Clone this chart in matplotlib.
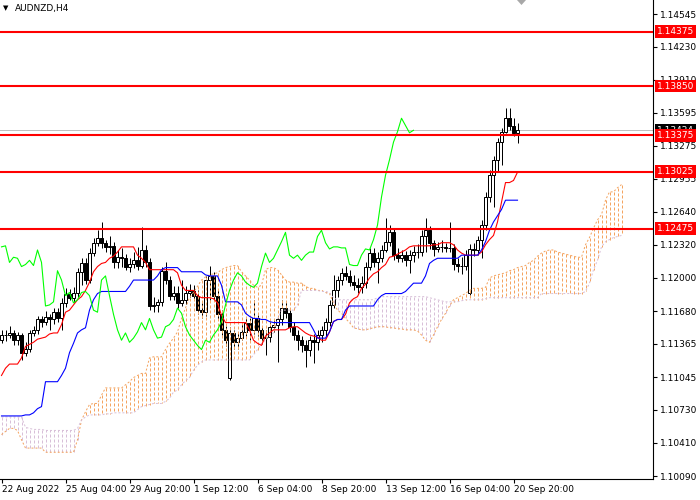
import matplotlib
matplotlib.use("Agg")
import matplotlib.pyplot as plt
from matplotlib import transforms
from matplotlib.collections import LineCollection
from matplotlib.patches import Polygon

symbol = "AUDNZD,H4"

# H4 candles, bar 0 = 22 Aug 2022 12:00
opens = [
    1.1140, 1.1145, 1.1145, 1.1147, 1.1140, 1.1145, 1.1128, 1.1132, 1.1147, 1.1150,
    1.1160, 1.1158, 1.1162, 1.1160, 1.1167, 1.1161, 1.1176, 1.1185, 1.1181, 1.1186,
    1.1206, 1.1214, 1.1198, 1.1224, 1.1234, 1.1239, 1.1234, 1.1230, 1.1231, 1.1215,
    1.1220, 1.1219, 1.1211, 1.1213, 1.1217, 1.1212, 1.1227, 1.1215, 1.1173, 1.1174,
    1.1177, 1.1207, 1.1198, 1.1183, 1.1186, 1.1176, 1.1179, 1.1186, 1.1187, 1.1183,
    1.1169, 1.1167, 1.1198, 1.1202, 1.1183, 1.1165, 1.1150, 1.1104, 1.1147, 1.1138,
    1.1142, 1.1148, 1.1157, 1.1150, 1.1161, 1.1150, 1.1142, 1.1143, 1.1153, 1.1155,
    1.1160, 1.1171, 1.1166, 1.1153, 1.1145, 1.1140, 1.1135, 1.1131, 1.1140, 1.1138,
    1.1145, 1.1150, 1.1158, 1.1174, 1.1188, 1.1198, 1.1205, 1.1202, 1.1196, 1.1193,
    1.1191, 1.1195, 1.1211, 1.1224, 1.1215, 1.1219, 1.1227, 1.1235, 1.1244, 1.1222,
    1.1219, 1.1222, 1.1217, 1.1222, 1.1225, 1.1225, 1.1240, 1.1246, 1.1234, 1.1228,
    1.1230, 1.1230, 1.1229, 1.1229, 1.1213, 1.1212, 1.1212, 1.1186, 1.1228, 1.1227,
    1.1237, 1.1251, 1.1278, 1.1299, 1.1314, 1.1331, 1.1341, 1.1354, 1.1347, 1.1340,
]
closes = [
    1.1145, 1.1145, 1.1147, 1.1140, 1.1145, 1.1128, 1.1132, 1.1147, 1.1150, 1.1160,
    1.1158, 1.1162, 1.1160, 1.1167, 1.1161, 1.1176, 1.1185, 1.1181, 1.1186, 1.1206,
    1.1214, 1.1198, 1.1224, 1.1234, 1.1239, 1.1234, 1.1230, 1.1231, 1.1215, 1.1220,
    1.1219, 1.1211, 1.1213, 1.1217, 1.1212, 1.1227, 1.1215, 1.1173, 1.1174, 1.1177,
    1.1207, 1.1198, 1.1183, 1.1186, 1.1176, 1.1179, 1.1186, 1.1187, 1.1183, 1.1169,
    1.1167, 1.1198, 1.1202, 1.1183, 1.1165, 1.1150, 1.1140, 1.1147, 1.1138, 1.1142,
    1.1148, 1.1157, 1.1150, 1.1161, 1.1150, 1.1142, 1.1143, 1.1153, 1.1155, 1.1160,
    1.1171, 1.1166, 1.1153, 1.1145, 1.1140, 1.1135, 1.1131, 1.1140, 1.1138, 1.1145,
    1.1150, 1.1158, 1.1174, 1.1188, 1.1198, 1.1205, 1.1202, 1.1196, 1.1193, 1.1191,
    1.1195, 1.1211, 1.1224, 1.1215, 1.1219, 1.1227, 1.1235, 1.1244, 1.1222, 1.1219,
    1.1222, 1.1217, 1.1222, 1.1225, 1.1225, 1.1240, 1.1246, 1.1234, 1.1228, 1.1230,
    1.1230, 1.1229, 1.1229, 1.1213, 1.1212, 1.1212, 1.1222, 1.1228, 1.1227, 1.1237,
    1.1251, 1.1278, 1.1299, 1.1314, 1.1331, 1.1341, 1.1354, 1.1347, 1.1340, 1.13424,
]
highs = [
    1.1150, 1.1150, 1.1154, 1.1150, 1.1148, 1.1147, 1.1138, 1.1150, 1.1154, 1.1163,
    1.1163, 1.1168, 1.1165, 1.1171, 1.1171, 1.1181, 1.1190, 1.1189, 1.1191, 1.1210,
    1.1219, 1.1219, 1.1229, 1.1239, 1.1246, 1.1254, 1.1237, 1.1240, 1.1235, 1.1227,
    1.1229, 1.1223, 1.1219, 1.1225, 1.1230, 1.1249, 1.1232, 1.1219, 1.1182, 1.1180,
    1.1211, 1.1215, 1.1202, 1.1192, 1.1192, 1.1198, 1.1192, 1.1194, 1.1193, 1.1188,
    1.1176, 1.1202, 1.1212, 1.1206, 1.1188, 1.1169, 1.1154, 1.1153, 1.1150, 1.1148,
    1.1158, 1.1161, 1.1161, 1.1179, 1.1164, 1.1154, 1.1150, 1.1158, 1.1160, 1.1163,
    1.1179, 1.1177, 1.1169, 1.1158, 1.1150, 1.1144, 1.1140, 1.1144, 1.1146, 1.1150,
    1.1154, 1.1161, 1.1179, 1.1203, 1.1202, 1.1210, 1.1212, 1.1208, 1.1203, 1.1200,
    1.1202, 1.1215, 1.1229, 1.1229, 1.1225, 1.1232, 1.1258, 1.1251, 1.1248, 1.1229,
    1.1227, 1.1226, 1.1227, 1.1231, 1.1233, 1.1246, 1.1258, 1.1250, 1.1237, 1.1235,
    1.1237, 1.1234, 1.1254, 1.1233, 1.1219, 1.1220, 1.1227, 1.1233, 1.1234, 1.1240,
    1.1256, 1.1283, 1.1304, 1.1318, 1.1335, 1.1345, 1.1364, 1.1364, 1.1354, 1.1349,
]
lows = [
    1.1137, 1.1139, 1.1142, 1.1135, 1.1135, 1.1121, 1.1125, 1.1129, 1.1144, 1.1146,
    1.1153, 1.1155, 1.1150, 1.1156, 1.1158, 1.1150, 1.1172, 1.1179, 1.1177, 1.1182,
    1.1193, 1.1194, 1.1195, 1.1221, 1.1231, 1.1229, 1.1225, 1.1223, 1.1210, 1.1210,
    1.1211, 1.1208, 1.1206, 1.1210, 1.1208, 1.1210, 1.1211, 1.1169, 1.1167, 1.1167,
    1.1173, 1.1194, 1.1179, 1.1179, 1.1171, 1.1173, 1.1175, 1.1182, 1.1180, 1.1165,
    1.1161, 1.1163, 1.1179, 1.1179, 1.1160, 1.1145, 1.1134, 1.1102, 1.1132, 1.1132,
    1.1140, 1.1144, 1.1140, 1.1146, 1.1144, 1.1136, 1.1126, 1.1138, 1.1148, 1.1119,
    1.1155, 1.1161, 1.1148, 1.1140, 1.1131, 1.1129, 1.1114, 1.1125, 1.1118, 1.1131,
    1.1138, 1.1144, 1.1154, 1.1171, 1.1182, 1.1193, 1.1198, 1.1192, 1.1188, 1.1186,
    1.1186, 1.1190, 1.1208, 1.1211, 1.1195, 1.1215, 1.1225, 1.1231, 1.1217, 1.1215,
    1.1215, 1.1212, 1.1205, 1.1215, 1.1219, 1.1221, 1.1225, 1.1228, 1.1221, 1.1225,
    1.1225, 1.1225, 1.1225, 1.1208, 1.1206, 1.1204, 1.1208, 1.1184, 1.1221, 1.1222,
    1.1219, 1.1246, 1.1273, 1.1268, 1.1302, 1.1309, 1.1340, 1.1343, 1.1337, 1.1330,
]

# Ichimoku lines
tenkan = [
    1.1106, 1.1113, 1.1117, 1.1117, 1.1117, 1.1123, 1.1134, 1.1136, 1.1138, 1.1141,
    1.1142, 1.1143, 1.1146, 1.1147, 1.1147, 1.1155, 1.1167, 1.1169, 1.1174, 1.1179,
    1.1182, 1.1188, 1.1196, 1.1206, 1.1211, 1.1214, 1.1215, 1.1219, 1.1221, 1.1225,
    1.1230, 1.1230, 1.1230, 1.1230, 1.1222, 1.1219, 1.1215, 1.1208, 1.1208, 1.1208,
    1.1208, 1.1208, 1.1208, 1.1208, 1.1205, 1.1193, 1.1188, 1.1188, 1.1188, 1.1183,
    1.1181, 1.1181, 1.1181, 1.1180, 1.1176, 1.1164, 1.1157, 1.1157, 1.1157, 1.1157,
    1.1157, 1.1157, 1.1150, 1.1140, 1.1137, 1.1135, 1.1144, 1.1147, 1.1150, 1.1150,
    1.1150, 1.1150, 1.1152, 1.1153, 1.1153, 1.1150, 1.1147, 1.1145, 1.1144, 1.1143,
    1.1140, 1.1140, 1.1148, 1.1158, 1.1160, 1.1160, 1.1165, 1.1176, 1.1180, 1.1182,
    1.1190, 1.1194, 1.1200, 1.1204, 1.1206, 1.1210, 1.1213, 1.1220, 1.1221, 1.1223,
    1.1225, 1.1227, 1.1230, 1.1231, 1.1231, 1.1231, 1.1231, 1.1231, 1.1232, 1.1232,
    1.1234, 1.1234, 1.1234, 1.1232, 1.1227, 1.1224, 1.1222, 1.1222, 1.1222, 1.1222,
    1.1225, 1.1232, 1.1237, 1.1241, 1.1254, 1.1273, 1.1292, 1.1292, 1.1294, 1.1302,
]
kijun = [
    1.1067, 1.1067, 1.1067, 1.1067, 1.1067, 1.1067, 1.1068, 1.1068, 1.1070, 1.1074,
    1.1076, 1.1100, 1.1100, 1.1100, 1.1100, 1.1106, 1.1113, 1.1128, 1.1137, 1.1147,
    1.1150, 1.1152, 1.1169, 1.1179, 1.1185, 1.1187, 1.1187, 1.1187, 1.1187, 1.1187,
    1.1187, 1.1187, 1.1192, 1.1198, 1.1198, 1.1198, 1.1198, 1.1198, 1.1198, 1.1202,
    1.1208, 1.1210, 1.1210, 1.1210, 1.1210, 1.1206, 1.1206, 1.1206, 1.1206, 1.1206,
    1.1206, 1.1203, 1.1202, 1.1202, 1.1202, 1.1193, 1.1177, 1.1177, 1.1177, 1.1177,
    1.1174, 1.1166, 1.1163, 1.1161, 1.1161, 1.1160, 1.1160, 1.1158, 1.1157, 1.1157,
    1.1157, 1.1157, 1.1157, 1.1157, 1.1157, 1.1157, 1.1157, 1.1157, 1.1150, 1.1142,
    1.1142, 1.1142, 1.1148, 1.1158, 1.1160, 1.1160, 1.1169, 1.1173, 1.1173, 1.1173,
    1.1173, 1.1173, 1.1173, 1.1173, 1.1179, 1.1183, 1.1185, 1.1185, 1.1185, 1.1185,
    1.1185, 1.1187, 1.1191, 1.1195, 1.1195, 1.1195, 1.1202, 1.1214, 1.1217, 1.1219,
    1.1219, 1.1219, 1.1219, 1.1219, 1.1219, 1.1222, 1.1222, 1.1222, 1.1222, 1.1222,
    1.1227, 1.1235, 1.1246, 1.1254, 1.1260, 1.1266, 1.1275, 1.1275, 1.1275, 1.1275,
]
# senkou spans run 26 bars past the last candle
span_a = [
    1.1049, 1.1052, 1.1055, 1.1055, 1.1053, 1.1044, 1.1036, 1.1036, 1.1036, 1.1036,
    1.1036, 1.1032, 1.1032, 1.1032, 1.1032, 1.1032, 1.1032, 1.1032, 1.1032, 1.1044,
    1.1063, 1.1071, 1.1078, 1.1079, 1.1079, 1.1087, 1.1094, 1.1094, 1.1094, 1.1094,
    1.1094, 1.1097, 1.1100, 1.1104, 1.1106, 1.1108, 1.1108, 1.1123, 1.1124, 1.1124,
    1.1124, 1.1131, 1.1137, 1.1142, 1.1148, 1.1161, 1.1171, 1.1181, 1.1186, 1.1192,
    1.1198, 1.1201, 1.1203, 1.1204, 1.1205, 1.1208, 1.1210, 1.1211, 1.1212, 1.1212,
    1.1206, 1.1202, 1.1198, 1.1193, 1.1191, 1.1193, 1.1208, 1.1210, 1.1210, 1.1208,
    1.1203, 1.1198, 1.1196, 1.1196, 1.1195, 1.1195, 1.1192, 1.1190, 1.1190, 1.1188,
    1.1188, 1.1186, 1.1185, 1.1176, 1.1169, 1.1166, 1.1161, 1.1157, 1.1152, 1.1151,
    1.1150, 1.1150, 1.1151, 1.1152, 1.1153, 1.1153, 1.1153, 1.1152, 1.1152, 1.1151,
    1.1151, 1.1150, 1.1150, 1.1150, 1.1149, 1.1145, 1.1140, 1.1138, 1.1145, 1.1153,
    1.1160, 1.1166, 1.1173, 1.1179, 1.1181, 1.1183, 1.1185, 1.1188, 1.1190, 1.1190,
    1.1190, 1.1191, 1.1200, 1.1202, 1.1203, 1.1204, 1.1205, 1.1207, 1.1208, 1.1210,
    1.1211, 1.1212, 1.1215, 1.1217, 1.1221, 1.1224, 1.1226, 1.1227, 1.1227, 1.1225,
    1.1224, 1.1223, 1.1222, 1.1221, 1.1220, 1.1220, 1.1232, 1.1239, 1.1248, 1.1256,
    1.1261, 1.1275, 1.1283, 1.1283, 1.1287, 1.1290,
]
span_b = [
    1.1066, 1.1066, 1.1066, 1.1066, 1.1066, 1.1066, 1.1056, 1.1055, 1.1054, 1.1054,
    1.1054, 1.1053, 1.1053, 1.1053, 1.1053, 1.1053, 1.1053, 1.1053, 1.1053, 1.1055,
    1.1063, 1.1066, 1.1068, 1.1068, 1.1068, 1.1068, 1.1069, 1.1069, 1.1070, 1.1070,
    1.1070, 1.1070, 1.1070, 1.1070, 1.1073, 1.1076, 1.1077, 1.1078, 1.1079, 1.1079,
    1.1079, 1.1081, 1.1084, 1.1090, 1.1092, 1.1097, 1.1101, 1.1104, 1.1111, 1.1116,
    1.1119, 1.1121, 1.1121, 1.1121, 1.1121, 1.1121, 1.1121, 1.1121, 1.1121, 1.1121,
    1.1121, 1.1121, 1.1121, 1.1126, 1.1131, 1.1137, 1.1140, 1.1145, 1.1147, 1.1160,
    1.1169, 1.1169, 1.1169, 1.1169, 1.1174, 1.1188, 1.1188, 1.1188, 1.1188, 1.1188,
    1.1187, 1.1187, 1.1186, 1.1181, 1.1179, 1.1179, 1.1179, 1.1179, 1.1179, 1.1179,
    1.1179, 1.1179, 1.1179, 1.1179, 1.1181, 1.1182, 1.1182, 1.1182, 1.1182, 1.1182,
    1.1182, 1.1182, 1.1182, 1.1182, 1.1182, 1.1182, 1.1182, 1.1181, 1.1180, 1.1179,
    1.1178, 1.1177, 1.1177, 1.1177, 1.1177, 1.1178, 1.1179, 1.1179, 1.1179, 1.1179,
    1.1179, 1.1180, 1.1181, 1.1181, 1.1181, 1.1181, 1.1181, 1.1181, 1.1181, 1.1181,
    1.1181, 1.1181, 1.1181, 1.1181, 1.1181, 1.1185, 1.1185, 1.1185, 1.1185, 1.1185,
    1.1185, 1.1185, 1.1185, 1.1185, 1.1185, 1.1185, 1.1187, 1.1195, 1.1208, 1.1217,
    1.1230, 1.1235, 1.1237, 1.1239, 1.1240, 1.1241,
]
chikou_shift = 26

levels = [1.14375, 1.13850, 1.13375, 1.13025, 1.12475]
bid = 1.13424
price_ticks = [1.14545, 1.14230, 1.13910, 1.13595, 1.13275, 1.12955, 1.12640, 1.12320,
               1.12000, 1.11680, 1.11365, 1.11045, 1.10730, 1.10410, 1.10090]
date_bars = [0, 16, 32, 48, 64, 80, 96, 112, 128]
date_labels = ["22 Aug 2022", "25 Aug 04:00", "29 Aug 20:00", "1 Sep 12:00", "6 Sep 04:00",
               "8 Sep 20:00", "13 Sep 12:00", "16 Sep 04:00", "20 Sep 20:00"]

SANDY = "#F4A460"
THISTLE = "#D8BFD8"
FS = 6.5
PX = 0.72  # one pixel in points at 100 dpi

fig = plt.figure(figsize=(7, 5), dpi=100)
ax = fig.add_axes([0, 21 / 500, 653 / 700, 479 / 500])
# 4 px per bar, bars sit on pixel centres
ax.set_xlim(-0.375, 162.875)
ax.set_ylim(1.10062, 1.14680)

# candles
n = len(closes)
xs = list(range(n))
ax.vlines(xs, lows, highs, color="black", lw=PX, zorder=2)
for i in xs:
    o, c = opens[i], closes[i]
    ax.bar(i, abs(c - o), bottom=min(o, c), width=0.75,
           facecolor="white" if c >= o else "black", edgecolor="black",
           lw=PX, zorder=2.2)

# kumo hatch, one dotted column per bar
cols = []
colors = []
for i in range(len(span_a)):
    cols.append([(i, span_a[i]), (i, span_b[i])])
    colors.append(SANDY if span_a[i] >= span_b[i] else THISTLE)
ax.add_collection(LineCollection(cols, colors=colors, linewidths=PX,
                                 linestyles=[(0, (3, 2))], zorder=3))
ax.plot(range(len(span_a)), span_a, color=SANDY, lw=PX, ls=(0, (2, 2)), zorder=3.1)
ax.plot(range(len(span_b)), span_b, color=THISTLE, lw=PX, ls=(0, (2, 2)), zorder=3.1)

# lines
ax.plot(xs, tenkan, color="#FF0000", lw=0.8, zorder=4)
ax.plot(xs, kijun, color="#0000FF", lw=0.8, zorder=4)
ax.plot(range(n - chikou_shift), closes[chikou_shift:], color="#00FF00", lw=0.8, zorder=4)

# levels and bid
ax.axhline(bid, color="#C0C0C0", lw=PX, zorder=1)
for lv in levels:
    ax.axhline(lv, color="red", lw=1.5, zorder=6)

# axes look
for side in ("top", "left"):
    ax.spines[side].set_visible(False)
for side in ("right", "bottom"):
    ax.spines[side].set_linewidth(0.8)
ax.yaxis.tick_right()
ax.set_yticks(price_ticks, [f"{p:.5f}" for p in price_ticks])
ax.tick_params(axis="y", length=3, width=0.8, pad=2, labelsize=FS)
ax.set_xticks(date_bars, date_labels)
for lbl in ax.get_xticklabels():
    lbl.set_ha("left")
ax.tick_params(axis="x", length=3, width=0.8, pad=1, labelsize=FS)

# price labels on the right
trans = transforms.blended_transform_factory(ax.transAxes, ax.transData)
trans = trans + transforms.ScaledTranslation(4 / 100, 0, fig.dpi_scale_trans)
ax.text(1, bid, f"{bid:.5f}", transform=trans, ha="left", va="center", fontsize=FS,
        color="white", bbox=dict(boxstyle="square,pad=0.2", fc="black", ec="none"),
        zorder=9, clip_on=False)
for lv in levels:
    ax.text(1, lv, f"{lv:.5f}", transform=trans, ha="left", va="center", fontsize=FS,
            color="white", bbox=dict(boxstyle="square,pad=0.2", fc="red", ec="none"),
            zorder=10, clip_on=False)

# header
fig.text(3 / 700, 1 - 8 / 500, "\u25bc", fontsize=5, va="center", ha="left")
fig.text(15 / 700, 1 - 8 / 500, symbol, fontsize=FS, va="center", ha="left")
fig.add_artist(Polygon([[517 / 700, 1], [526 / 700, 1], [521.5 / 700, 1 - 5 / 500]],
                       closed=True, transform=fig.transFigure, fc="#A8A8A8", ec="none"))

fig.savefig("out.png", dpi=100)
